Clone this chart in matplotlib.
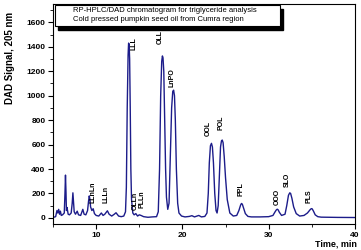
import matplotlib
matplotlib.use("Agg")
import matplotlib.pyplot as plt
from matplotlib.patches import Rectangle
from matplotlib.ticker import MultipleLocator
import matplotlib.transforms as mtransforms

# chromatogram trace (time in min, signal)
time = [5.05, 5.3, 5.45, 5.55, 5.65, 5.75, 5.85, 5.95, 6.1, 6.3, 6.38, 6.44, 6.5, 6.55,
        6.62, 6.75, 6.9, 7.1, 7.22, 7.3, 7.38, 7.45, 7.6, 7.8, 7.95, 8.2, 8.45, 8.6,
        8.8, 9.0, 9.12, 9.2, 9.28, 9.35, 9.5, 9.65, 9.8, 10.0, 10.3, 10.6, 10.8, 11.0,
        11.3, 11.5, 11.8, 12.1, 12.3, 12.6, 12.9, 13.2, 13.4, 13.5, 13.6, 13.7, 13.76,
        13.82, 13.88, 13.95, 14.02, 14.1, 14.25, 14.4, 14.6, 14.8, 15.0, 15.2, 15.5,
        16.0, 16.5, 17.0, 17.2, 17.35, 17.48, 17.6, 17.68, 17.75, 17.84, 17.95, 18.05,
        18.15, 18.3, 18.45, 18.6, 18.75, 18.88, 18.98, 19.08, 19.18, 19.3, 19.45,
        19.6, 19.9, 20.3, 20.8, 21.1, 21.4, 21.9, 22.2, 22.6, 22.85, 23.0, 23.12,
        23.25, 23.37, 23.48, 23.6, 23.75, 23.9, 24.02, 24.15, 24.3, 24.42, 24.53,
        24.62, 24.72, 24.85, 25.0, 25.2, 25.5, 25.9, 26.3, 26.55, 26.75, 26.85,
        26.95, 27.1, 27.3, 27.6, 28.0, 29.0, 30.0, 30.5, 30.75, 30.9, 31.0, 31.1,
        31.25, 31.5, 31.9, 32.1, 32.3, 32.45, 32.55, 32.7, 32.9, 33.2, 33.6, 34.1,
        34.5, 34.8, 34.95, 35.05, 35.2, 35.4, 35.7, 36.1, 37.0, 38.0, 40.0]
signal = [5, 10, 60, 40, 70, 30, 55, 20, 25, 40, 200, 350, 210, 60,
          85, 30, 25, 40, 120, 205, 120, 50, 30, 55, 25, 20, 70, 30,
          25, 60, 140, 180, 150, 90, 60, 75, 35, 20, 15, 40, 20, 30,
          58, 30, 15, 30, 42, 15, 10, 15, 50, 250, 900, 1330, 1430,
          1420, 1300, 900, 400, 150, 40, 25, 35, 15, 25, 20, 10,
          5, 8, 10, 50, 400, 1000, 1280, 1325, 1310, 1200, 800, 400,
          170, 70, 120, 500, 900, 1035, 1045, 1000, 800, 400, 120,
          40, 15, 8, 12, 18, 8, 20, 8, 12, 40, 200, 450,
          590, 610, 580, 450, 200, 60, 40, 100, 380, 580, 630,
          637, 615, 500, 330, 150, 40, 15, 20, 60, 105, 118,
          112, 80, 35, 12, 8, 8, 10, 20, 50, 66, 71, 66,
          45, 20, 30, 100, 185, 205, 200, 160, 90, 35, 15, 20,
          40, 66, 76, 74, 55, 25, 10, 6, 5, 4, 3]

# peak labels: name, time, bottom of the label
peak_names = ["LLnLn", "LLLn", "LLL", "OLLn", "PLLn", "OLL", "LnPO",
              "OOL", "POL", "PPL", "OOO", "SLO", "PLS"]
peak_time = [9.6, 11.1, 14.4, 14.5, 15.3, 17.45, 18.8,
             22.95, 24.5, 26.85, 31.0, 32.2, 34.7]
peak_label_y = [118, 120, 1375, 63, 77, 1420, 1070,
                670, 720, 175, 105, 254, 123]

plt.rcParams['font.family'] = ['Liberation Sans', 'DejaVu Sans']

fig = plt.figure(figsize=(3.61, 2.5), dpi=100)
ax = fig.add_axes([0.147, 0.104, 0.836, 0.88])

ax.plot(time, signal, color='#1c1c8a', lw=1.0)

for name, t, y in zip(peak_names, peak_time, peak_label_y):
    ax.text(t, y, name, rotation=90, ha='center', va='bottom',
            fontsize=5, fontweight='bold')

ax.set_xlim(5, 40)
ax.set_ylim(-50, 1750)
ax.xaxis.set_minor_locator(MultipleLocator(5))
ax.yaxis.set_minor_locator(MultipleLocator(100))
ax.set_xticks([10, 20, 30, 40])
ax.set_yticks(range(0, 1601, 200))
ax.tick_params(which='major', direction='out', length=3.5, width=0.8,
               labelsize=6, pad=2)
ax.tick_params(which='minor', direction='out', length=2, width=0.6)
for lab in ax.get_xticklabels() + ax.get_yticklabels():
    lab.set_fontweight('bold')
for sp in ax.spines.values():
    sp.set_linewidth(0.8)

fig.text(10 / 361, 1 - 58 / 250, "DAD Signal, 205 nm", rotation=90,
         ha='center', va='center', fontsize=7, fontweight='bold')
fig.text(357 / 361, 1 - 243.5 / 250, "Time, min", ha='right', va='center',
         fontsize=6.5, fontweight='bold')

# title box with shadow
shadow_tr = ax.transAxes + mtransforms.ScaledTranslation(3 / 100, -4 / 100, fig.dpi_scale_trans)
ax.add_patch(Rectangle((0.007, 0.901), 0.745, 0.094, transform=shadow_tr,
                       facecolor='black', edgecolor='black', zorder=4))
ax.add_patch(Rectangle((0.007, 0.901), 0.745, 0.094, transform=ax.transAxes,
                       facecolor='white', edgecolor='black', lw=0.8, zorder=5))
ax.text(0.066, 0.969, "RP-HPLC/DAD chromatogram for triglyceride analysis",
        transform=ax.transAxes, fontsize=5.5, va='center', zorder=6)
ax.text(0.066, 0.930, "Cold pressed pumpkin seed oil from Cumra region",
        transform=ax.transAxes, fontsize=5.5, va='center', zorder=6)

fig.savefig("out.png", dpi=100)
